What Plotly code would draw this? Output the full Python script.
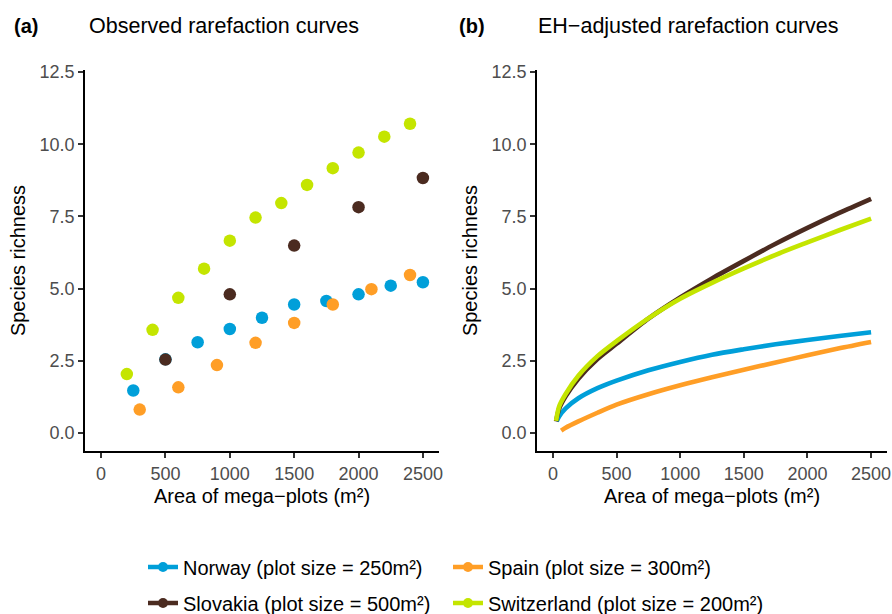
import plotly.graph_objects as go

# ---------------- data ----------------
countries = ["Norway", "Slovakia", "Spain", "Switzerland"]
legend_labels = {
    "Norway": "Norway (plot size = 250m²)",
    "Spain": "Spain (plot size = 300m²)",
    "Slovakia": "Slovakia (plot size = 500m²)",
    "Switzerland": "Switzerland (plot size = 200m²)",
}
colors = {"Norway": "#009FD9", "Spain": "#FF9E26", "Slovakia": "#4B2B20", "Switzerland": "#C4E500"}

# (a) observed rarefaction points
obs_area_norway = [250, 500, 750, 1000, 1250, 1500, 1750, 2000, 2250, 2500]
obs_rich_norway = [1.47, 2.55, 3.14, 3.60, 3.99, 4.45, 4.57, 4.80, 5.10, 5.22]
obs_area_slovakia = [500, 1000, 1500, 2000, 2500]
obs_rich_slovakia = [2.54, 4.80, 6.49, 7.82, 8.83]
obs_area_spain = [300, 600, 900, 1200, 1500, 1800, 2100, 2400]
obs_rich_spain = [0.81, 1.58, 2.35, 3.12, 3.81, 4.45, 4.98, 5.47]
obs_area_switz = [200, 400, 600, 800, 1000, 1200, 1400, 1600, 1800, 2000, 2200, 2400]
obs_rich_switz = [2.04, 3.57, 4.68, 5.69, 6.66, 7.46, 7.96, 8.59, 9.17, 9.71, 10.26, 10.71]

# (b) EH-adjusted rarefaction curves
eh_area_norway = [30, 50, 100, 200, 350, 500, 750, 1000, 1250, 1500, 1750, 2000, 2250, 2500]
eh_rich_norway = [0.40, 0.58, 0.85, 1.20, 1.55, 1.81, 2.17, 2.46, 2.71, 2.90, 3.07, 3.22, 3.36, 3.49]
eh_area_slovakia = [25, 50, 100, 200, 350, 500, 750, 1000, 1250, 1500, 1750, 2000, 2250, 2500]
eh_rich_slovakia = [0.40, 0.85, 1.27, 1.88, 2.56, 3.09, 3.96, 4.69, 5.35, 5.96, 6.55, 7.10, 7.62, 8.11]
eh_area_spain = [65, 100, 200, 350, 500, 750, 1000, 1250, 1500, 1750, 2000, 2250, 2500]
eh_rich_spain = [0.08, 0.18, 0.40, 0.70, 0.98, 1.34, 1.65, 1.93, 2.19, 2.44, 2.69, 2.93, 3.15]
eh_area_switz = [25, 50, 100, 200, 350, 500, 750, 1000, 1250, 1500, 1750, 2000, 2250, 2500]
eh_rich_switz = [0.42, 0.93, 1.35, 1.98, 2.66, 3.18, 3.97, 4.65, 5.20, 5.70, 6.17, 6.60, 7.02, 7.42]

x_ticks = [0, 500, 1000, 1500, 2000, 2500]
y_ticks = [0, 2.5, 5.0, 7.5, 10.0, 12.5]

obs = {
    "Norway": (obs_area_norway, obs_rich_norway),
    "Slovakia": (obs_area_slovakia, obs_rich_slovakia),
    "Spain": (obs_area_spain, obs_rich_spain),
    "Switzerland": (obs_area_switz, obs_rich_switz),
}
eh = {
    "Norway": (eh_area_norway, eh_rich_norway),
    "Slovakia": (eh_area_slovakia, eh_rich_slovakia),
    "Spain": (eh_area_spain, eh_rich_spain),
    "Switzerland": (eh_area_switz, eh_rich_switz),
}

FONT = "Liberation Sans, Arial, Helvetica, sans-serif"
W, H = 892, 614

fig = go.Figure()
for c in countries:
    xs, ys = obs[c]
    fig.add_trace(go.Scatter(x=xs, y=ys, mode="markers", xaxis="x", yaxis="y",
                             marker=dict(color=colors[c], size=12.5, line=dict(width=0)),
                             showlegend=False, hoverinfo="x+y"))
for c in countries:
    xs, ys = eh[c]
    fig.add_trace(go.Scatter(x=xs, y=ys, mode="lines", xaxis="x2", yaxis="y2",
                             line=dict(color=colors[c], width=4.6, shape="spline", smoothing=0.8),
                             showlegend=False))

# legend entries (two rows, two columns)
legend_rows = [("legend", ["Norway", "Spain"]), ("legend2", ["Slovakia", "Switzerland"])]
for leg, items in legend_rows:
    for i, c in enumerate(items):
        fig.add_trace(go.Scatter(x=[None], y=[None], mode="lines+markers", xaxis="x", yaxis="y",
                                 name=legend_labels[c], legend=leg,
                                 legendwidth=(260 if i == 0 else 300),
                                 line=dict(color=colors[c], width=4.4),
                                 marker=dict(color=colors[c], size=10)))

def px_x(p):
    return p / W

def px_y(p):
    return 1 - p / H

ydom = [px_y(451), px_y(70)]
common_x = dict(range=[-125, 2625], tickvals=x_ticks, ticks="outside", ticklen=5, tickwidth=1.6,
                tickcolor="#333333", showline=True, linecolor="black", linewidth=1.8,
                showgrid=False, zeroline=False, automargin=False,
                tickfont=dict(family=FONT, size=18, color="#4D4D4D"),
                title=dict(text="Area of mega−plots (m²)", font=dict(family=FONT, size=20, color="black"),
                           standoff=6))
common_y = dict(range=[-0.625, 12.57], tickvals=y_ticks, tickformat=".1f", ticks="outside", ticklen=5,
                tickwidth=1.6, tickcolor="#333333", showline=True, linecolor="black", linewidth=1.8,
                showgrid=False, zeroline=False, domain=ydom, automargin=False,
                tickfont=dict(family=FONT, size=18, color="#4D4D4D"),
                title=dict(text="Species richness", font=dict(family=FONT, size=20, color="black"),
                           standoff=8))

legend_common = dict(orientation="h", xanchor="left", yanchor="middle", entrywidthmode="pixels",
                     font=dict(family=FONT, size=20, color="black"),
                     bgcolor="rgba(0,0,0,0)", borderwidth=0)

fig.update_layout(
    width=W, height=H,
    margin=dict(l=0, r=0, t=0, b=0, autoexpand=False),
    paper_bgcolor="white", plot_bgcolor="white",
    font=dict(family=FONT, color="black"),
    xaxis=dict(common_x, domain=[px_x(85), px_x(439)], anchor="y"),
    yaxis=dict(common_y, anchor="x"),
    xaxis2=dict(common_x, domain=[px_x(537), px_x(887)], anchor="y2"),
    yaxis2=dict(common_y, anchor="x2"),
    legend=dict(legend_common, x=px_x(143), y=px_y(567)),
    legend2=dict(legend_common, x=px_x(143), y=px_y(603)),
    annotations=[
        dict(text="<b>(a)</b>", x=px_x(12), y=px_y(26), xref="paper", yref="paper",
             xanchor="left", yanchor="middle", showarrow=False, font=dict(family=FONT, size=20)),
        dict(text="Observed rarefaction curves", x=px_x(87), y=px_y(26), xref="paper", yref="paper",
             xanchor="left", yanchor="middle", showarrow=False, font=dict(family=FONT, size=21.5)),
        dict(text="<b>(b)</b>", x=px_x(457), y=px_y(26), xref="paper", yref="paper",
             xanchor="left", yanchor="middle", showarrow=False, font=dict(family=FONT, size=20)),
        dict(text="EH−adjusted rarefaction curves", x=px_x(536), y=px_y(26), xref="paper", yref="paper",
             xanchor="left", yanchor="middle", showarrow=False, font=dict(family=FONT, size=21.5)),
    ],
)

fig.write_html("out.html")
